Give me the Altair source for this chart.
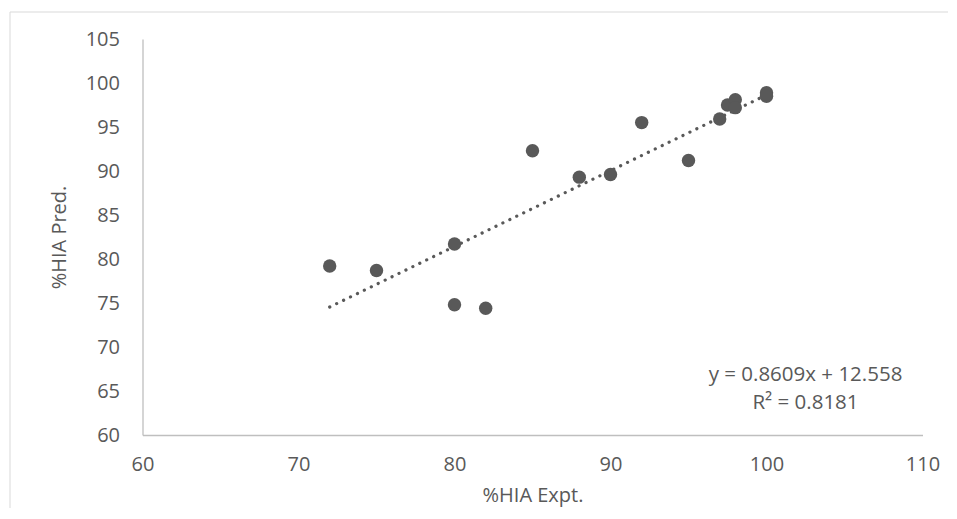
import altair as alt
import pandas as pd

# Data
expt = [72, 75, 80, 80, 82, 85, 88, 90, 92, 95, 97, 97.5, 98, 98, 100, 100]
pred = [79.2, 78.7, 81.7, 74.8, 74.4, 92.3, 89.3, 89.6, 95.5, 91.2, 95.9, 97.5, 98.1, 97.2, 98.9, 98.5]

slope = 0.8609
intercept = 12.558
trend_x = [72, 100]

x_ticks = [60, 70, 80, 90, 100, 110]
y_ticks = [60, 65, 70, 75, 80, 85, 90, 95, 100, 105]

eq_lines = ["y = 0.8609x + 12.558", "R² = 0.8181"]
eq_x = [102.5, 102.5]
eq_y = [66.8, 63.6]

FONT = "Open Sans"
TXT = "#595959"
PT = "#595959"

pts = pd.DataFrame({"x": expt, "y": pred})
trend = pd.DataFrame({"x": trend_x, "y": [slope * v + intercept for v in trend_x]})
eq = pd.DataFrame({"x": eq_x, "y": eq_y, "t": eq_lines})

xs = alt.Scale(domain=[60, 110], nice=False, zero=False)
ys = alt.Scale(domain=[60, 105], nice=False, zero=False)

xax = alt.Axis(values=x_ticks, title="%HIA Expt.", grid=False, ticks=False,
               domainColor="#bfbfbf", domainWidth=1.3,
               labelFont=FONT, labelFontSize=20, labelColor=TXT, labelPadding=19,
               titleFont=FONT, titleFontSize=20, titleColor=TXT, titleFontWeight="normal",
               titlePadding=11, labelFlush=False)
yax = alt.Axis(values=y_ticks, title="%HIA Pred.", grid=False, ticks=False,
               domainColor="#bfbfbf", domainWidth=1.3,
               labelFont=FONT, labelFontSize=20, labelColor=TXT, labelPadding=23,
               titleFont=FONT, titleFontSize=20, titleColor=TXT, titleFontWeight="normal",
               titlePadding=16, labelFlush=False)

border = alt.Chart(pd.DataFrame({"a": [0]})).mark_rect(
    fill=None, stroke="#d9d9d9", strokeWidth=1
).encode(x=alt.value(-132.5), y=alt.value(-27), x2=alt.value(900), y2=alt.value(600))

points = alt.Chart(pts).mark_circle(size=180, color=PT, opacity=1).encode(
    x=alt.X("x:Q", scale=xs, axis=xax),
    y=alt.Y("y:Q", scale=ys, axis=yax),
)

line = alt.Chart(trend).mark_line(
    color=PT, strokeWidth=3.2, strokeDash=[0.1, 7.6], strokeCap="round"
).encode(x=alt.X("x:Q", scale=xs), y=alt.Y("y:Q", scale=ys))

text = alt.Chart(eq).mark_text(font=FONT, fontSize=20.5, color=TXT, align="center", baseline="middle").encode(
    x=alt.X("x:Q", scale=xs), y=alt.Y("y:Q", scale=ys), text="t:N"
)

chart = alt.layer(border, line, points, text).properties(
    width=780, height=396,
    autosize=alt.AutoSizeParams(type="none"),
    padding={"left": 134.5, "top": 31, "right": 25.5, "bottom": 73},
    background="white",
).configure_view(stroke=None)

chart.save("out.html", embed_options={"renderer": "svg", "actions": False})
